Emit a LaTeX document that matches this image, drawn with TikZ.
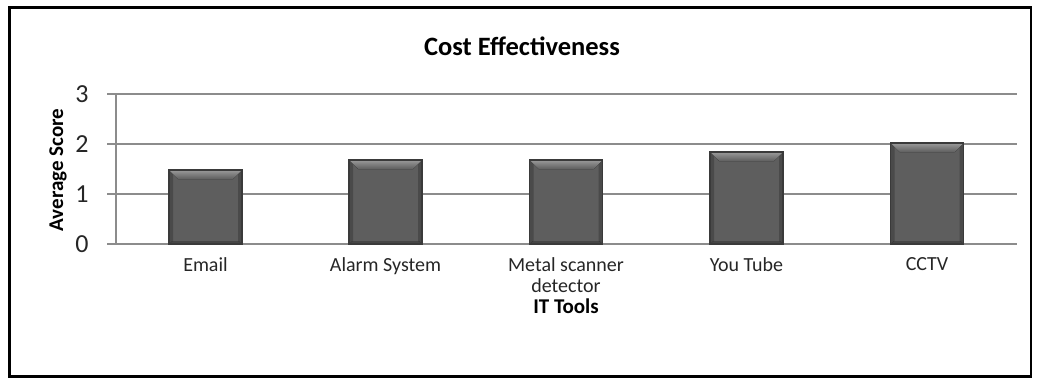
\documentclass[tikz,border=0pt]{standalone}
\usepackage{fontspec}
\setmainfont{Carlito}
\definecolor{gridc}{HTML}{8C8C8C}
\definecolor{barc}{HTML}{5E5E5E}
\definecolor{baredge}{HTML}{3A3A3A}
\definecolor{bevtop}{HTML}{9A9A9A}
\definecolor{sidec}{HTML}{4A4A4A}
\definecolor{txt}{HTML}{262626}
\begin{document}
\begin{tikzpicture}[x=1pt,y=-1pt,
  grid/.style={draw=gridc,line width=2pt},
  barbox/.style={draw=baredge,line width=1.2pt,fill=barc,minimum width=73pt,inner sep=0pt,outer sep=0pt,anchor=south},
  bevelc/.style={top color=bevtop,bottom color=barc},
  ticklab/.style={font=\fontsize{26}{30}\selectfont,text=txt,anchor=center},
  catlab/.style={font=\fontsize{20}{21}\selectfont,text=txt,align=center,anchor=north},
  axtitle/.style={font=\fontsize{21}{25}\selectfont\bfseries,text=black},
  titlelab/.style={font=\fontsize{26.5}{30}\selectfont\bfseries,text=black}]
\useasboundingbox (0,0) rectangle (1039,380);
\draw[line width=2.5pt,black] (9.5,7.5) rectangle (1031,376.5);
% gridlines
\foreach \v/\yy in {0/244,1/194,2/144,3/94}{
  \coordinate (g\v l) at (107,\yy);
  \coordinate (g\v r) at (1017,\yy);
  \draw[grid] (g\v l) -- (g\v r);
  \node[ticklab] (t\v) at (82,\yy) {\v};
}
\coordinate (axtop) at (116,94);
\coordinate (axbot) at (116,244);
\draw[grid] (axtop) -- (axbot);
% bars
\foreach \n/\cx/\h/\lab in {1/205.5/74/Email,2/385.5/84/Alarm System,3/566/84/{Metal scanner\\detector},4/746.5/92/You Tube,5/927/101/CCTV}{
  \node[barbox,minimum height=\h pt] (b\n) at (\cx,244) {};
  \fill[sidec] (b\n.north west) -- ([xshift=4pt,yshift=-4pt]b\n.north west) -- ([xshift=4pt,yshift=3pt]b\n.south west) -- (b\n.south west) -- cycle;
  \fill[sidec] (b\n.north east) -- ([xshift=-4pt,yshift=-4pt]b\n.north east) -- ([xshift=-4pt,yshift=3pt]b\n.south east) -- (b\n.south east) -- cycle;
  \fill[bevelc] (b\n.north west) -- (b\n.north east) -- ([xshift=-9pt,yshift=-9pt]b\n.north east) -- ([xshift=9pt,yshift=-9pt]b\n.north west) -- cycle;
  \fill[black,opacity=0.25] (b\n.south west) -- (b\n.south east) -- ([xshift=-3pt,yshift=3pt]b\n.south east) -- ([xshift=3pt,yshift=3pt]b\n.south west) -- cycle;
  \draw[baredge,line width=1.2pt] (b\n.south west) rectangle (b\n.north east);
  \node[catlab] (c\n) at (\cx,254) {\lab};
}
\node[titlelab] (title) at (522,46) {Cost Effectiveness};
\node[axtitle,rotate=90] (ytitle) at (58,170) {Average Score};
\node[axtitle] (xtitle) at (566,306) {IT Tools};
\end{tikzpicture}
\end{document}
